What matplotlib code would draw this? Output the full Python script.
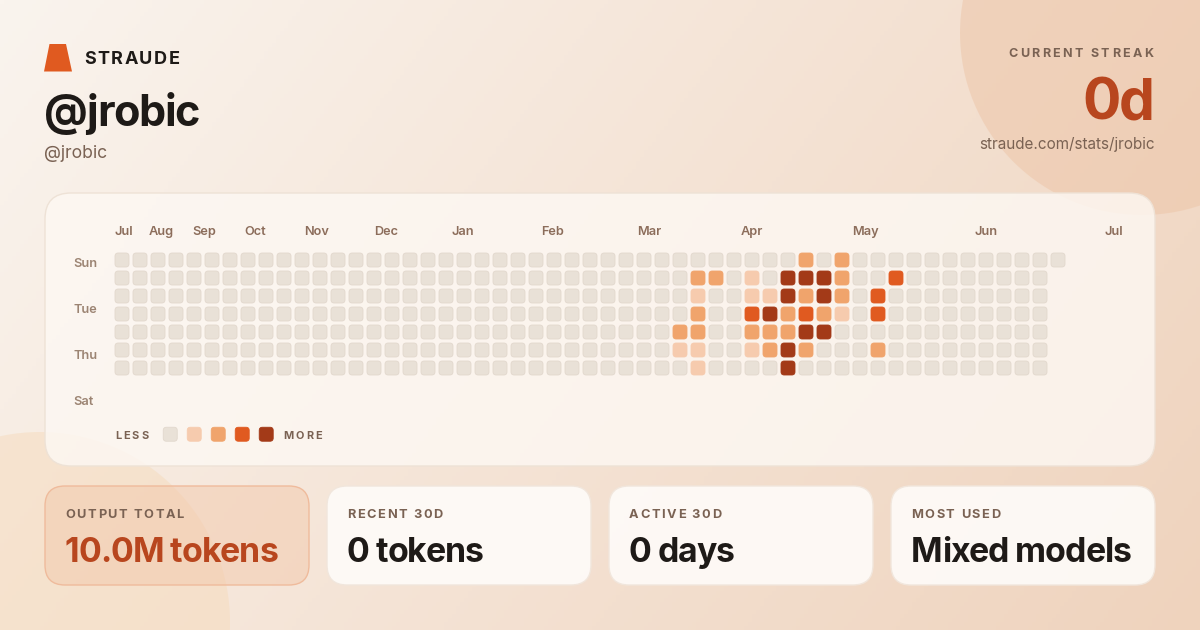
import numpy as np
import matplotlib
matplotlib.use("Agg")
import matplotlib.pyplot as plt
from matplotlib.patches import FancyBboxPatch, Circle, Polygon
from matplotlib.font_manager import FontProperties
from matplotlib.colors import to_rgb

plt.rcParams['font.family'] = ['Inter', 'DejaVu Sans']

user = "@jrobic"
streak = "0d"
url = "straude.com/stats/jrobic"

months = ["Jul", "Aug", "Sep", "Oct", "Nov", "Dec", "Jan", "Feb", "Mar", "Apr", "May", "Jun", "Jul"]
month_pos = [0.1, 2.17, 4.56, 7.39, 10.83, 14.67, 18.94, 23.9, 29.3, 35.0, 41.3, 48.0, 55.1]  # in week units

day_labels = ["Sun", "Tue", "Thu", "Sat"]

# activity level per day row, one char per week (53 weeks); "." = no cell
zeros30 = "0" * 30
zeros7 = "0" * 7
activity = [
    zeros30 + "000000002020000" + zeros7 + "0",  # Sun
    zeros30 + "002201044420030" + zeros7 + ".",  # Mon
    zeros30 + "001001142420300" + zeros7 + ".",  # Tue
    zeros30 + "002003423210300" + zeros7 + ".",  # Wed
    zeros30 + "022002224400000" + zeros7 + ".",  # Thu
    zeros30 + "011001242000200" + zeros7 + ".",  # Fri
    zeros30 + "001000040000000" + zeros7 + ".",  # Sat
]

level_colors = ["#E9E1D7", "#F6CBAE", "#F0A46C", "#E05A20", "#A33A18"]

stat_titles = ["OUTPUT TOTAL", "RECENT 30D", "ACTIVE 30D", "MOST USED"]
stat_values = ["10.0M tokens", "0 tokens", "0 days", "Mixed models"]

# ---- colours ----
ink = "#1E1A17"
muted = "#7A6253"
accent = "#B8461E"
orange = "#E05A20"

W, H = 1200, 630
fig = plt.figure(figsize=(12, 6.3), dpi=100)
bg = fig.add_axes([0, 0, 1, 1])
bg.set_xlim(0, W)
bg.set_ylim(H, 0)
bg.axis("off")

# gradient background
c0 = np.array(to_rgb("#FAF4EE"))
c1 = np.array(to_rgb("#EFD3BD"))
xx, yy = np.meshgrid(np.linspace(0, 1, 300), np.linspace(0, 1, 160))
t = np.clip(0.72 * xx + 0.28 * yy, 0, 1)[..., None]
bg.imshow(c0 * (1 - t) + c1 * t, extent=[0, W, H, 0], aspect="auto", zorder=0)

bg.add_patch(Circle((1142, 33), 182, color="#EDC4A6", alpha=0.5, lw=0, zorder=1))
bg.add_patch(Circle((40, 622), 190, color="#F5D9B8", alpha=0.45, lw=0, zorder=1))


def rbox(x, y, w, h, r, fc, ec, alpha=1.0, lw=1.0):
    p = FancyBboxPatch((x + r, y + r), w - 2 * r, h - 2 * r,
                       boxstyle=f"round,pad={r}", fc=fc, ec=ec, lw=lw, zorder=2)
    p.set_facecolor((*to_rgb(fc), alpha))
    bg.add_patch(p)


renderer = fig.canvas.get_renderer()


def spaced(x, y, s, size, color, spacing, ha="left", weight="bold"):
    fp = FontProperties(family=["Inter", "DejaVu Sans"], weight=weight, size=size)

    def width(part):
        if not part:
            return 0.0
        return renderer.get_text_width_height_descent(part, fp, ismath=False)[0]

    total = width(s) + spacing * (len(s) - 1)
    if ha == "right":
        x = x - total
    for i, ch in enumerate(s):
        bg.text(x + width(s[:i]) + i * spacing, y, ch, fontproperties=fp,
                color=color, va="baseline", ha="left", zorder=5)


# header
bg.add_patch(Polygon([(44, 71.5), (72, 71.5), (66, 44), (49.5, 44)], closed=True,
                     color=orange, lw=0, zorder=3))
spaced(84, 64, "STRAUDE", 13.0, ink, 1.5)
spaced(44, 126, user, 31, ink, -1.3)
bg.text(44, 158.5, user, fontsize=12.7, color=muted, va="baseline", zorder=5)

spaced(1153, 57, "CURRENT STREAK", 9.0, muted, 2.35, ha="right")
spaced(1155, 120, streak, 41, accent, -1.5, ha="right")
bg.text(1155, 149, url, fontsize=11.0, color=muted, ha="right", va="baseline", zorder=5)

# heatmap panel
rbox(45, 193, 1110, 273, 26, "#FDF8F3", "#EEE2D6", alpha=0.82)

# stat cards
card_x = [45, 327, 609, 891]
for i, (title, val) in enumerate(zip(stat_titles, stat_values)):
    x = card_x[i]
    if i == 0:
        rbox(x, 486, 264, 99, 20, "#F2C9AC", "#EFBB9C", alpha=0.5)
        vcol = accent
    else:
        rbox(x, 486, 264, 99, 20, "#FEFBF8", "#F1E6DC", alpha=0.93)
        vcol = ink
    spaced(x + 20, 518.5, title, 9.2, muted, 1.6)
    spaced(x + 20, 562, val, 24.4, vcol, -1.0)

# heatmap axes: one unit = one 18px week/day step
n_weeks = len(activity[0])
hm = fig.add_axes([113 / W, 1 - 377 / H, 954 / W, 126 / H])
hm.set_xlim(-0.5, n_weeks - 0.5)
hm.set_ylim(6.5, -0.5)
hm.axis("off")

cell = 14 / 18
rad = 3.2 / 18


def draw_cell(ax, cx, cy, color):
    p = FancyBboxPatch((cx - cell / 2 + rad, cy - cell / 2 + rad), cell - 2 * rad, cell - 2 * rad,
                       boxstyle=f"round,pad={rad}", fc=color,
                       ec="#E2D8CD" if color == level_colors[0] else color,
                       lw=0.6, clip_on=False, zorder=3)
    ax.add_patch(p)


for d, row in enumerate(activity):
    for w, ch in enumerate(row):
        if ch == ".":
            continue
        draw_cell(hm, w, d, level_colors[int(ch)])

for name, pos in zip(months, month_pos):
    hm.text(pos, -1.39, name, fontsize=9.2, fontweight="semibold", color="#8C6D5B",
            ha="center", va="baseline", clip_on=False)

for i, name in enumerate(day_labels):
    hm.text(-2.72, 0.37 + i * 2.556, name, fontsize=9.2, fontweight="semibold", color="#9C8473",
            ha="left", va="baseline", clip_on=False)

# legend
spaced(115, 439, "LESS", 7.9, muted, 2.0)
for i, c in enumerate(level_colors):
    draw_cell(hm, 2.68 + i * 1.333, 9.68, c)
spaced(283.5, 439, "MORE", 7.9, muted, 2.0)

fig.savefig("out.png", dpi=100)
